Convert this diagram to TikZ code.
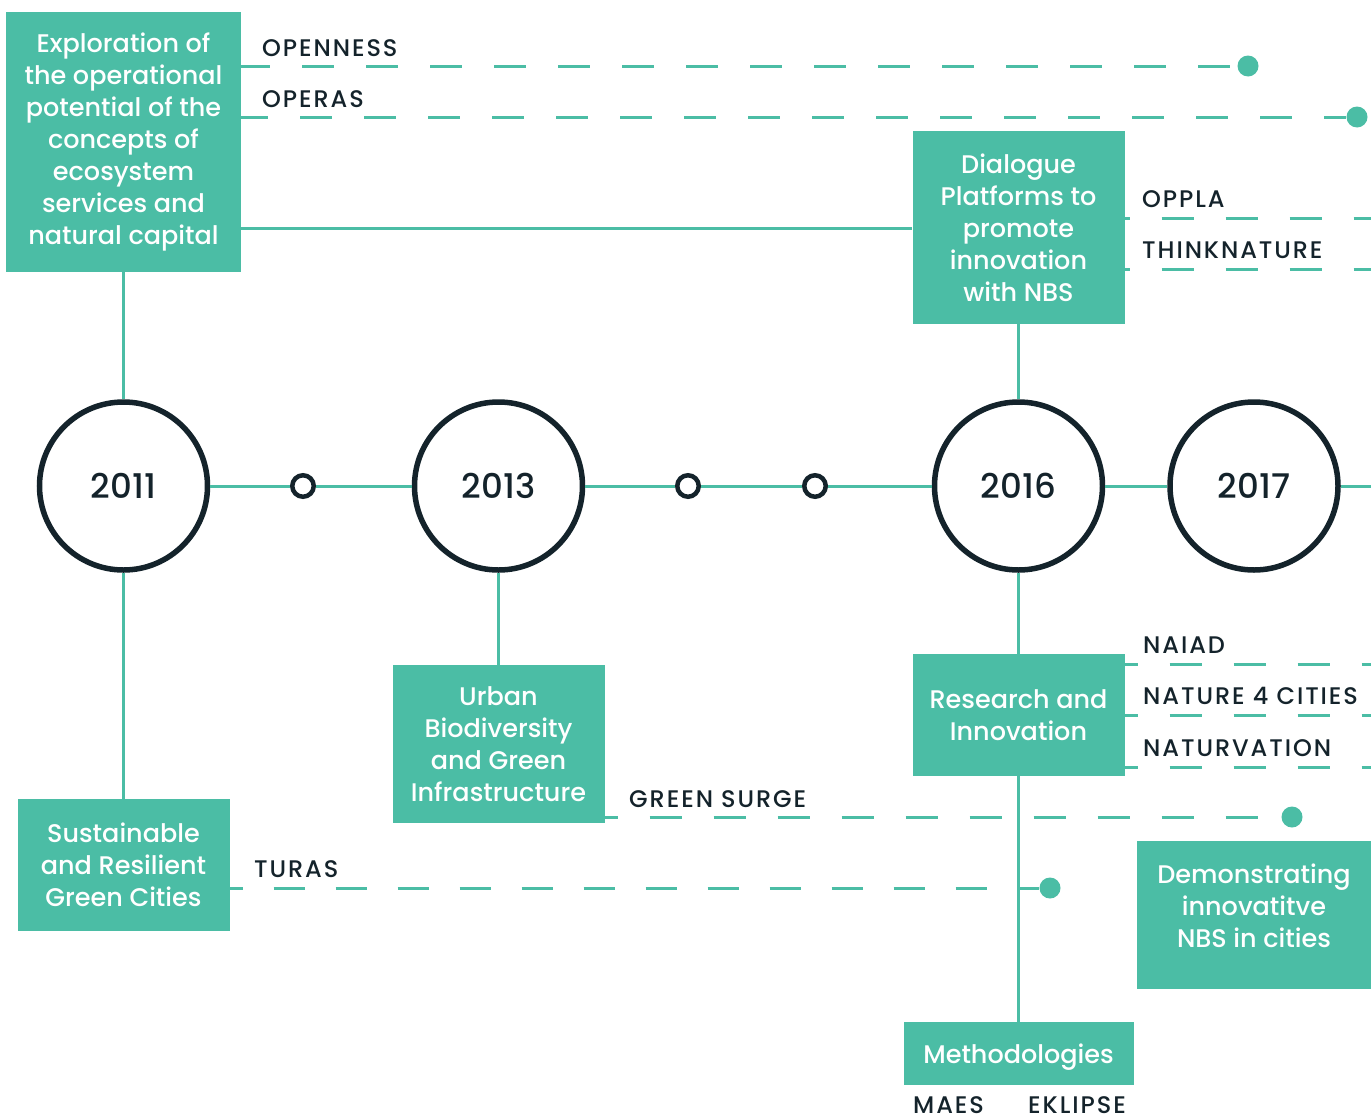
\documentclass[tikz,border=0pt]{standalone}
\usepackage{fontspec}
\setmainfont{Poppins Medium}
\newfontfamily\lblfont{Poppins Medium}[LetterSpace=8]
\definecolor{nbsteal}{HTML}{4BBDA5}
\definecolor{nbsdark}{HTML}{14232B}
\begin{document}
\begin{tikzpicture}[x=1pt,y=-1pt,
  box/.style={fill=nbsteal, text=white, inner sep=0pt, align=center, font=\fontsize{25.5}{32}\selectfont},
  boxtext/.style={text=white, inner sep=0pt, align=center, font=\fontsize{25.5}{32}\selectfont},
  year/.style={circle, draw=nbsdark, line width=5.5pt, fill=white, minimum size=168pt, inner sep=0pt, text=nbsdark, font=\fontsize{34}{40}\selectfont},
  ring/.style={circle, draw=nbsdark, line width=4.5pt, fill=white, minimum size=21.5pt, inner sep=0pt},
  dot/.style={circle, fill=nbsteal, minimum size=21pt, inner sep=0pt},
  solidline/.style={draw=nbsteal, line width=3pt},
  dashline/.style={draw=nbsteal, line width=3pt, dash pattern=on 32pt off 32pt},
  lbl/.style={anchor=base west, inner sep=0pt, text=nbsdark, font=\lblfont\fontsize{24}{28}\selectfont}]
\path[use as bounding box] (0,0) rectangle (1371,1119);
\clip (0,0) rectangle (1371,1119);

% boxes
\node[box, minimum width=235pt, minimum height=260pt] (box1) at (123.5,142)
  {Exploration of\\the operational\\potential of the\\concepts of\\ecosystem\\services and\\natural capital};
\node[box, minimum width=212pt, minimum height=193pt] (dlg) at (1018.5,227.5)
  {Dialogue\\Platforms to\\promote\\innovation\\with NBS};
\node[box, minimum width=212pt, minimum height=122pt] (res) at (1018.5,715)
  {Research and\\Innovation};
\node[box, minimum width=212pt, minimum height=158pt] (urb) at (498.5,744)
  {Urban\\Biodiversity\\and Green\\Infrastructure};
\node[box, minimum width=212pt, minimum height=132pt] (sus) at (123.5,865)
  {Sustainable\\and Resilient\\Green Cities};
\node[box, minimum width=234pt, minimum height=148pt] (demo) at (1254,915) {};
\node[boxtext] (demotext) at (1254,906) {Demonstrating\\innovatitve\\NBS in cities};
\node[box, minimum width=230pt, minimum height=63pt, text depth=0pt] (meth) at (1018.5,1053.5) {Methodologies};

% timeline nodes
\node[year] (c2011) at (123.5,486) {2011};
\node[year] (c2013) at (498.5,486) {2013};
\node[year] (c2016) at (1018.5,486) {2016};
\node[year] (c2017) at (1254,486) {2017};
\node[ring] (s1) at (303,486) {};
\node[ring] (s2) at (688,486) {};
\node[ring] (s3) at (815,486) {};
\coordinate (tend) at (1380,486);

% dots and ends
\node[dot] (d1) at (1248,66) {};
\node[dot] (d2) at (1357,117) {};
\node[dot] (d3) at (1292,817) {};
\node[dot] (d4) at (1050,888) {};
\coordinate (e3) at (1380,218);
\coordinate (e4) at (1380,269);
\coordinate (e5) at (1380,664);
\coordinate (e6) at (1380,715);
\coordinate (e7) at (1380,767);
\coordinate (hy) at (0,228);

% dashed connectors
\draw[dashline, dash phase=3] (box1.east |- d1) -- (d1.west);
\draw[dashline, dash phase=5] (box1.east |- d2) -- (d2.west);
\draw[dashline, dash phase=27] (dlg.east |- e3) -- (e3);
\draw[dashline, dash phase=27] (dlg.east |- e4) -- (e4);
\draw[dashline, dash phase=19] (res.east |- e5) -- (e5);
\draw[dashline, dash phase=19] (res.east |- e6) -- (e6);
\draw[dashline, dash phase=19] (res.east |- e7) -- (e7);
\draw[dashline, dash phase=19] (urb.east |- d3) -- (d3.west);
\draw[dashline, dash pattern=on 31pt off 31pt, dash phase=18] (sus.east |- d4) -- (d4.west);

% solid connectors
\draw[solidline] (box1.east |- hy) -- (dlg.west |- hy);
\draw[solidline] (box1.south) -- (c2011.north);
\draw[solidline] (c2011.south) -- (sus.north);
\draw[solidline] (c2013.south) -- (urb.north);
\draw[solidline] (dlg.south) -- (c2016.north);
\draw[solidline] (c2016.south) -- (res.north);
\draw[solidline] (res.south) -- (meth.north);
\draw[solidline] (c2011.east) -- (s1.west);
\draw[solidline] (s1.east) -- (c2013.west);
\draw[solidline] (c2013.east) -- (s2.west);
\draw[solidline] (s2.east) -- (s3.west);
\draw[solidline] (s3.east) -- (c2016.west);
\draw[solidline] (c2016.east) -- (c2017.west);
\draw[solidline] (c2017.east) -- (tend);

% labels
\node[lbl] (lopen) at (262,56) {OPENNESS};
\node[lbl] (loper) at (262,107) {OPERAS};
\node[lbl] (loppla) at (1142,207) {OPPLA};
\node[lbl] (lthink) at (1142,258) {THINKNATURE};
\node[lbl] (lnaiad) at (1143,653) {NAIAD};
\node[lbl] (lnat4) at (1143,704) {NATURE 4 CITIES};
\node[lbl] (lnaturv) at (1143,756) {NATURVATION};
\node[lbl] (lgreen) at (629,807) {GREEN SURGE};
\node[lbl] (lturas) at (254,877) {TURAS};
\node[lbl] (lmaes) at (913,1113) {MAES};
\node[lbl] (lekl) at (1028,1113) {EKLIPSE};
\end{tikzpicture}
\end{document}
